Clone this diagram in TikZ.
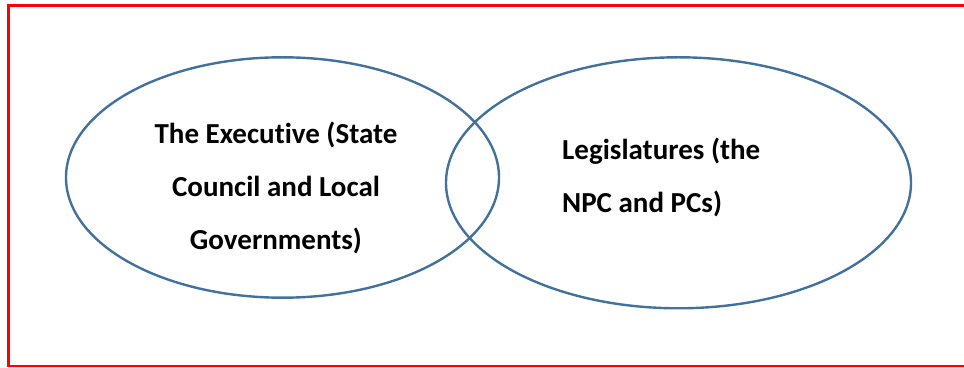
\documentclass[tikz,border=0pt]{standalone}
\usepackage{fontspec}
\setmainfont[Ligatures=CommonOff]{Carlito}
\usetikzlibrary{shapes.geometric}
\definecolor{ovalblue}{RGB}{65,113,156}
\tikzset{
  oval/.style={draw=ovalblue, line width=2.4pt, ellipse, inner sep=0pt},
  label text/.style={font=\bfseries\fontsize{29}{53}\selectfont, inner sep=0pt}
}
\begin{document}
\begin{tikzpicture}[x=1pt, y=1pt]  %two overlapping ovals
  \clip (0,0) rectangle (964,367);
  \draw[red, line width=2.8pt] (8.5,1) rectangle (980,361.8);
  \node[oval, minimum width=433pt, minimum height=240.4pt] (exec) at (282.5,189.5) {};
  \node[oval, minimum width=465pt, minimum height=251pt] (legis) at (678.5,184.2) {};
  \node[label text, align=center] (execname) at (276,179.5) {The Executive (State\\Council and Local\\Governments)};
  \node[label text, align=left, anchor=west] (legisname) at (562,189.5) {Legislatures (the\\NPC and PCs)};
\end{tikzpicture}
\end{document}
